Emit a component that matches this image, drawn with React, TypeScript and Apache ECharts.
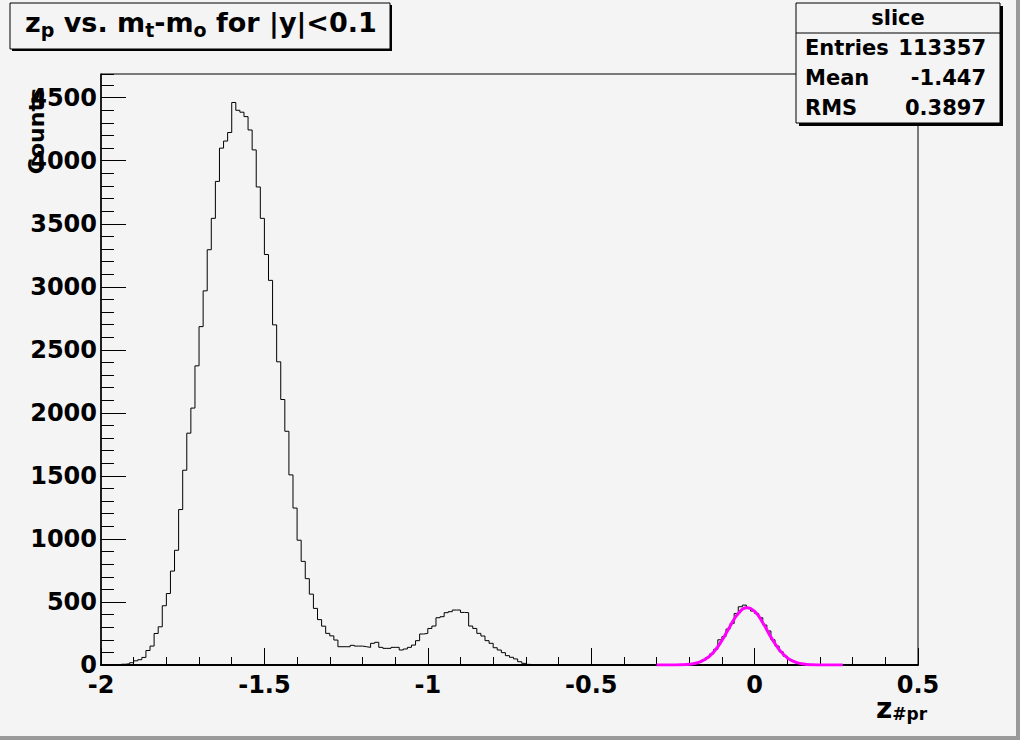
import React, { useEffect, useRef } from "react";
import * as echarts from "echarts";

const X_MIN = -2;
const X_MAX = 0.5;
const BIN_WIDTH = 0.0125;
const Y_MAX = 4688;
const X_TICK_LABELS = ["-2", "-1.5", "-1", "-0.5", "0", "0.5"];
const Y_TICK_LABELS = ["0", "500", "1000", "1500", "2000", "2500", "3000", "3500", "4000", "4500"];

// 200 bins from -2 to 0.5
const histCounts = [
  0, 0, 0, 0, 0, 6, 10, 18, 33, 42,
  60, 115, 150, 250, 303, 470, 567, 745, 910, 1233,
  1545, 1839, 2038, 2373, 2684, 2968, 3294, 3543, 3836, 4100,
  4156, 4224, 4462, 4400, 4385, 4350, 4244, 4086, 3792, 3543,
  3256, 3051, 2698, 2405, 2106, 1854, 1508, 1245, 990, 822,
  685, 562, 449, 360, 308, 251, 231, 198, 145, 145,
  145, 156, 150, 150, 145, 140, 172, 180, 140, 132,
  132, 140, 140, 119, 127, 140, 158, 193, 246, 251,
  290, 309, 375, 383, 415, 423, 436, 436, 417, 415,
  309, 290, 251, 230, 193, 172, 137, 119, 98, 74,
  61, 48, 26, 13, 5, 2, 0, 0, 0, 0,
  0, 0, 0, 0, 0, 0, 0, 0, 0, 0,
  0, 0, 0, 0, 0, 0, 0, 0, 0, 0,
  0, 0, 0, 0, 0, 0, 0, 0, 0, 0,
  0, 0, 0, 1, 7, 14, 22, 38, 58, 88,
  125, 200, 225, 285, 330, 409, 462, 475, 454, 428,
  409, 375, 317, 270, 200, 150, 105, 70, 45, 28,
  16, 9, 5, 3, 1, 0, 0, 0, 0, 0,
  0, 0, 0, 0, 0, 0, 0, 0, 0, 0,
  0, 0, 0, 0, 0, 0, 0, 0, 0, 0,
];

// Gaussian fit curve
const fitX = [-0.3, -0.275, -0.25, -0.225, -0.2, -0.175, -0.15, -0.125, -0.1, -0.075, -0.05, -0.025, 0, 0.025, 0.05, 0.075, 0.1, 0.125, 0.15, 0.175, 0.2, 0.225, 0.25, 0.27];
const fitY = [0, 0, 0.3, 1.5, 5.6, 17.6, 47, 104, 195, 308, 408, 454, 425, 335, 221, 123, 57, 23, 7.5, 2, 0.5, 0.1, 0, 0];

const statsTitle = "slice";
const statsLabels = ["Entries", "Mean", "RMS"];
const statsValues = ["113357", "-1.447", "0.3897"];

const FONT = "'DejaVu Sans', sans-serif";
const BG = "#f4f4f4";

export default function App() {
  const ref = useRef<HTMLDivElement>(null);
  useEffect(() => {
    if (!ref.current) return;
    const chart = echarts.init(ref.current, null, { renderer: "svg" });

    const histData: [number, number][] = histCounts.map((c, i) => [X_MIN + i * BIN_WIDTH, c]);
    histData.push([X_MAX, histCounts[histCounts.length - 1]]);
    const fitData = fitX.map((x, i) => [x, fitY[i]]);

    const statsGraphics: any[] = [
      { type: "rect", shape: { x: 799, y: 6, width: 204, height: 120 }, style: { fill: "#000" }, z: 100 },
      { type: "rect", shape: { x: 796, y: 3, width: 204, height: 120 }, style: { fill: BG, stroke: "#000", lineWidth: 1 }, z: 101 },
      { type: "line", shape: { x1: 796, y1: 33, x2: 1000, y2: 33 }, style: { stroke: "#000", lineWidth: 1 }, z: 102 },
      {
        type: "text", x: 898, y: 18, z: 102,
        style: { text: statsTitle, fill: "#000", font: `bold 21px ${FONT}`, textAlign: "center", textVerticalAlign: "middle" },
      },
    ];
    statsLabels.forEach((lab, i) => {
      const cy = 48 + i * 30;
      statsGraphics.push({
        type: "text", x: 805, y: cy, z: 102,
        style: { text: lab, fill: "#000", font: `bold 21px ${FONT}`, textAlign: "left", textVerticalAlign: "middle" },
      });
      statsGraphics.push({
        type: "text", x: 986, y: cy, z: 102,
        style: { text: statsValues[i], fill: "#000", font: `bold 21px ${FONT}`, textAlign: "right", textVerticalAlign: "middle" },
      });
    });

    const option: any = {
      animation: false,
      backgroundColor: BG,
      grid: {
        left: 101, top: 74, right: 102, bottom: 75,
        show: true, borderColor: "#000", borderWidth: 1, backgroundColor: "transparent",
      },
      xAxis: [
        {
          type: "value", min: X_MIN, max: X_MAX, interval: 0.5,
          axisLine: { show: true, onZero: false, lineStyle: { color: "#000", width: 2 } },
          axisTick: { show: true, inside: true, length: 17, lineStyle: { color: "#000", width: 1 } },
          axisLabel: {
            show: true, margin: 8, color: "#000", fontFamily: FONT, fontWeight: "bold", fontSize: 24,
            formatter: (v: number) => {
              const idx = Math.round((v - X_MIN) / 0.5);
              return X_TICK_LABELS[idx] ?? String(v);
            },
          },
          splitLine: { show: false },
        },
        {
          type: "value", min: X_MIN, max: X_MAX, interval: 0.1, position: "bottom",
          axisLine: { show: false, onZero: false },
          axisTick: { show: true, inside: true, length: 8, lineStyle: { color: "#000", width: 1 } },
          axisLabel: { show: false },
          splitLine: { show: false },
        },
      ],
      yAxis: [
        {
          type: "value", min: 0, max: Y_MAX, interval: 500,
          axisLine: { show: true, onZero: false, lineStyle: { color: "#000", width: 1.5 } },
          axisTick: { show: true, inside: true, length: 25, lineStyle: { color: "#000", width: 1 } },
          axisLabel: {
            show: true, margin: 4, color: "#000", fontFamily: FONT, fontWeight: "bold", fontSize: 24,
            showMaxLabel: false,
            formatter: (v: number) => {
              const idx = Math.round(v / 500);
              return Y_TICK_LABELS[idx] ?? "";
            },
          },
          splitLine: { show: false },
        },
        {
          type: "value", min: 0, max: Y_MAX, interval: 100, position: "left",
          axisLine: { show: false, onZero: false },
          axisTick: { show: true, inside: true, length: 13, lineStyle: { color: "#000", width: 1 } },
          axisLabel: { show: false },
          splitLine: { show: false },
        },
      ],
      series: [
        {
          type: "line", xAxisIndex: 0, yAxisIndex: 0, data: histData, step: "end",
          symbol: "none", lineStyle: { color: "#000", width: 1 }, z: 3,
        },
        {
          type: "line", xAxisIndex: 0, yAxisIndex: 0, data: fitData, smooth: true,
          symbol: "none", lineStyle: { color: "#ff00ff", width: 3 }, z: 4,
        },
      ],
      graphic: [
        { type: "rect", shape: { x: 1016, y: 0, width: 4, height: 740 }, style: { fill: "#9a9a9a" }, z: 100 },
        { type: "rect", shape: { x: 0, y: 736, width: 1020, height: 4 }, style: { fill: "#9a9a9a" }, z: 100 },
        // title pave
        { type: "rect", shape: { x: 12, y: 5, width: 380, height: 46 }, style: { fill: "#000" }, z: 100 },
        { type: "rect", shape: { x: 10, y: 3, width: 380, height: 46 }, style: { fill: BG, stroke: "#000", lineWidth: 1 }, z: 101 },
        {
          type: "text", x: 25, y: 9, z: 102,
          style: {
            text: "{m|z}{s|p}{m| vs. m}{s|t}{m|-m}{s|o}{m| for |y|<0.1}",
            textVerticalAlign: "top",
            rich: {
              m: { fontFamily: FONT, fontWeight: "bold", fontSize: 27, lineHeight: 30, verticalAlign: "top", color: "#000" },
              s: { fontFamily: FONT, fontWeight: "bold", fontSize: 19, lineHeight: 16, verticalAlign: "bottom", color: "#000" },
            },
          },
        },
        ...statsGraphics,
        {
          type: "text", x: 36, y: 88, rotation: Math.PI / 2, z: 102,
          style: { text: "Counts", fill: "#000", font: `bold 22px ${FONT}`, textAlign: "right", textVerticalAlign: "middle" },
        },
        {
          type: "text", x: 876, y: 694, z: 102,
          style: {
            text: "{m|z}{s|#pr}",
            textVerticalAlign: "top",
            rich: {
              m: { fontFamily: FONT, fontWeight: "bold", fontSize: 28, lineHeight: 28, verticalAlign: "top", color: "#000" },
              s: { fontFamily: FONT, fontWeight: "bold", fontSize: 17, lineHeight: 14, verticalAlign: "bottom", color: "#000" },
            },
          },
        },
      ],
    };
    chart.setOption(option);
    return () => chart.dispose();
  }, []);
  return <div ref={ref} style={{ position: "fixed", left: 0, top: 0, width: 1020, height: 740 }} />;
}
